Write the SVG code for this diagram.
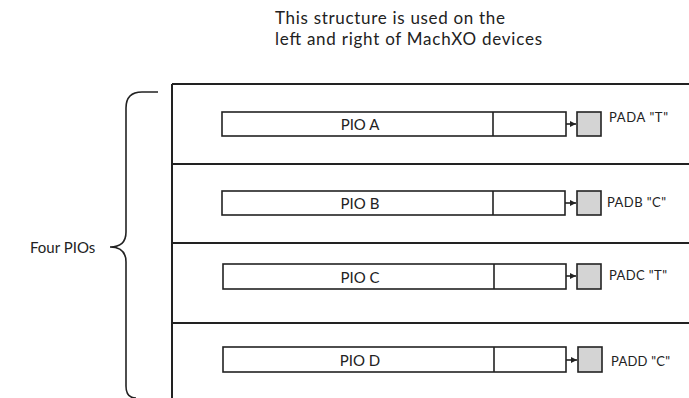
<svg xmlns="http://www.w3.org/2000/svg" width="689" height="398" viewBox="0 0 689 398">
<defs>
<style>
.t{font-family:Lato,"Liberation Sans",sans-serif;fill:#222}
.frame{stroke:#222;stroke-width:2;fill:none}
.box{stroke:#222;stroke-width:1.6;fill:#fff}
.pad{stroke:#222;stroke-width:1.6;fill:#d4d4d4}
.wire{stroke:#222;stroke-width:1.6;fill:none}
.pl{font-size:15px}
.pd{font-size:13px}
</style>
<marker id="ah" viewBox="0 0 6 6" refX="6" refY="3" markerWidth="4" markerHeight="4" orient="auto" markerUnits="strokeWidth"><path d="M0,0 L6,3 L0,6 z" fill="#222"/></marker>
</defs>
<rect width="689" height="398" fill="#fff"/>
<g id="title">
<text class="t" x="275" y="24" font-size="17" textLength="230" lengthAdjust="spacing">This structure is used on the</text>
<text class="t" x="275" y="45" font-size="17" textLength="267" lengthAdjust="spacing">left and right of MachXO devices</text>
</g>
<g id="frame">
<path class="frame" d="M172,84 V398 M172,84 H689 M172,164 H689 M172,243 H689 M172,323 H689"/>
</g>
<g id="brace">
<path class="wire" d="M158,92 H142 Q126,92 126,108 V232 Q126,247 110,247 Q126,247 126,262 V386 Q126,398 136,398"/>
<text class="t" x="30" y="253" font-size="15">Four PIOs</text>
</g>
<g id="pioA">
<rect class="box" x="222" y="112" width="344" height="24"/>
<line class="wire" x1="493" y1="112" x2="493" y2="136"/>
<text class="t pl" x="360" y="130" text-anchor="middle">PIO A</text>
</g>
<g id="padA">
<rect class="pad" x="577" y="112" width="24" height="24"/>
<text class="t pd" x="609" y="122" textLength="59" lengthAdjust="spacing">PADA "T"</text>
</g>
<g id="pioB">
<rect class="box" x="222" y="191" width="343" height="24"/>
<line class="wire" x1="493" y1="191" x2="493" y2="215"/>
<text class="t pl" x="360" y="209" text-anchor="middle">PIO B</text>
</g>
<g id="padB">
<rect class="pad" x="577" y="191" width="24" height="24"/>
<text class="t pd" x="607" y="207" textLength="59" lengthAdjust="spacing">PADB "C"</text>
</g>
<g id="pioC">
<rect class="box" x="223" y="264" width="343" height="25"/>
<line class="wire" x1="494" y1="264" x2="494" y2="289"/>
<text class="t pl" x="360" y="283" text-anchor="middle">PIO C</text>
</g>
<g id="padC">
<rect class="pad" x="577" y="264" width="24" height="25"/>
<text class="t pd" x="609" y="280" textLength="58" lengthAdjust="spacing">PADC "T"</text>
</g>
<g id="pioD">
<rect class="box" x="223" y="347" width="343" height="25"/>
<line class="wire" x1="494" y1="347" x2="494" y2="372"/>
<text class="t pl" x="360" y="366" text-anchor="middle">PIO D</text>
</g>
<g id="padD">
<rect class="pad" x="578" y="347" width="24" height="25"/>
<text class="t pd" x="611" y="366" textLength="59" lengthAdjust="spacing">PADD "C"</text>
</g>
<g id="connectors">
<line class="wire" x1="566" y1="124" x2="576" y2="124" marker-end="url(#ah)"/>
<line class="wire" x1="565" y1="203" x2="576" y2="203" marker-end="url(#ah)"/>
<line class="wire" x1="566" y1="276" x2="576" y2="276" marker-end="url(#ah)"/>
<line class="wire" x1="566" y1="360" x2="577" y2="360" marker-end="url(#ah)"/>
</g>
</svg>
